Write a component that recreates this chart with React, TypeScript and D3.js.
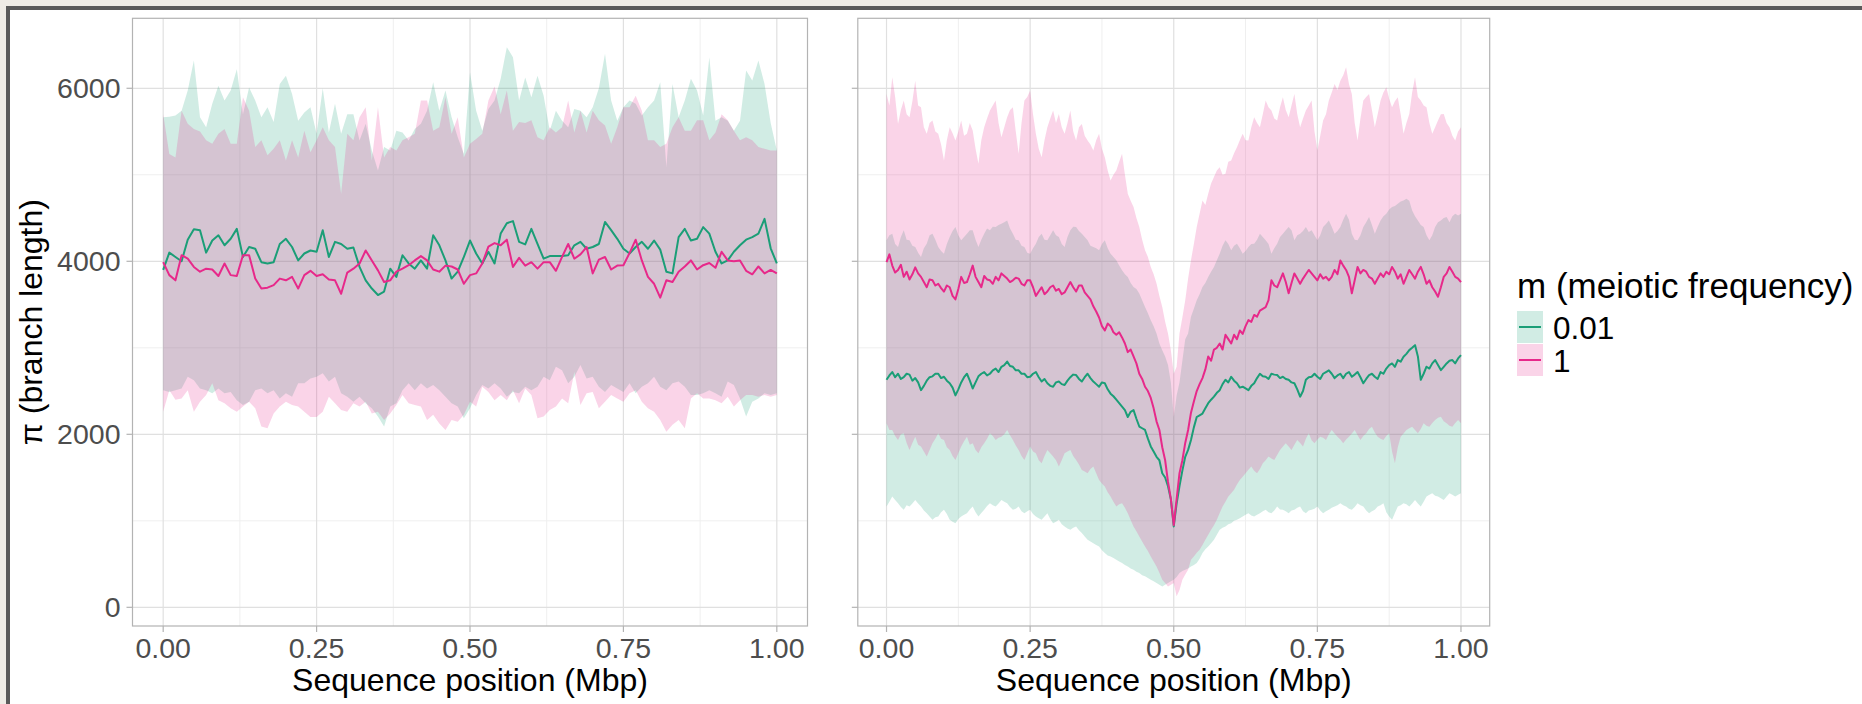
import React, { useEffect, useRef } from "react";
import * as d3 from "d3";

// ---- data ----
const seriesKeys = ["0.01", "1"];
const seriesColors = ["#1b9e77", "#e7298a"];

const xTicks = [0, 0.25, 0.5, 0.75, 1];
const xTickLabels = ["0.00", "0.25", "0.50", "0.75", "1.00"];
const xMinor = [0.125, 0.375, 0.625, 0.875];
const yTicks = [0, 2000, 4000, 6000];
const yMinor = [1000, 3000, 5000];

// left panel: 101 windows along the sequence
const posLeft = d3.range(0, 101).map((i) => i / 100);

const meanLeft001 = [
  3900, 4100, 4050, 4000, 4250, 4370, 4360, 4100, 4240, 4300,
  4185, 4260, 4375, 4050, 4165, 4145, 3990, 3975, 3990, 4200,
  4260, 4165, 4010, 4090, 4125, 4110, 4360, 4050, 4225, 4200,
  4145, 4160, 3935, 3780, 3685, 3610, 3650, 3915, 3820, 4070,
  3975, 3915, 4010, 3915, 4300, 4185, 4010, 3800, 3880, 4050,
  4240, 4090, 3975, 4110, 3975, 4320, 4440, 4465, 4225, 4195,
  4375, 4200, 4030, 4060, 4060, 4060, 4070, 4185, 4225, 4145,
  4165, 4200, 4455, 4360, 4260, 4145, 4090, 4165, 4225, 4145,
  4240, 4135, 3880, 3860, 4280, 4375, 4240, 4260, 4395, 4320,
  4110, 3975, 4010, 4110, 4185, 4250, 4280, 4320, 4490, 4150,
  3975,
];
const meanLeft1 = [
  3990, 3840, 3780, 4070, 4030, 3935, 3880, 3915, 3905, 3830,
  3975, 3840, 3830, 4070, 4070, 3800, 3685, 3695, 3725, 3800,
  3780, 3820, 3685, 3840, 3890, 3830, 3850, 3790, 3780, 3625,
  3870, 3915, 3975, 4125, 4010, 3895, 3760, 3780, 3880, 3915,
  3955, 4010, 4060, 4010, 3905, 3880, 3950, 3940, 3905, 3740,
  3840, 3860, 3975, 4170, 4210, 4185, 4250, 3935, 4040, 3950,
  3990, 3915, 3990, 3990, 3890, 4050, 4200, 4030, 4080, 4165,
  3860, 4020, 4050, 3905, 3950, 3955, 4095, 4250, 4010, 3820,
  3740, 3580, 3780, 3760, 3880, 3940, 4010, 3905, 3955, 3980,
  3925, 4110, 4010, 4000, 4010, 3890, 3850, 3940, 3860, 3900,
  3860,
];
const hiLeft001 = [
  5665, 5670, 5685, 5740, 5975, 6320, 5665, 5550, 5820, 6030,
  5860, 5975, 6220, 5700, 6010, 5860, 5665, 5780, 5610, 6050,
  6145, 5935, 5625, 5720, 5780, 5475, 6000, 5490, 5820, 5475,
  5700, 5700, 5395, 5590, 5280, 5050, 5320, 5280, 5510, 5490,
  5395, 5530, 5590, 5740, 6070, 5740, 5975, 5665, 5435, 5240,
  6185, 5740, 5510, 5760, 5860, 6110, 6475, 6360, 5860, 6125,
  5895, 6145, 5915, 5510, 5740, 5625, 5550, 5760, 5740, 5665,
  5780, 6000, 6400, 5860, 5625, 5780, 5860, 5820, 5685, 5780,
  5860, 6070, 5090, 6050, 5665, 5860, 6110, 5975, 5685, 6360,
  5625, 5665, 5625, 5510, 5625, 6205, 6090, 6320, 6050, 5600,
  5280,
];
const hiLeft1 = [
  5700, 5240, 5200, 5740, 5590, 5530, 5500, 5400, 5360, 5475,
  5530, 5360, 5360, 5895, 5740, 5320, 5400, 5225, 5300, 5400,
  5165, 5400, 5200, 5510, 5260, 5400, 5550, 5400, 5320, 4780,
  5475, 5400, 5665, 5780, 5165, 5780, 5200, 5320, 5280, 5400,
  5435, 5475, 5860, 5860, 5510, 5550, 5895, 5475, 5665, 5200,
  5360, 5415, 5475, 5860, 6020, 5700, 5975, 5510, 5610, 5600,
  5630, 5435, 5400, 5550, 5490, 5550, 5860, 5490, 5740, 5490,
  5740, 5630, 5570, 5360, 5550, 5780, 5780, 5915, 5740, 5400,
  5400, 5320, 5360, 5550, 5665, 5510, 5510, 5630, 5630, 5400,
  5490, 5700, 5630, 5510, 5400, 5435, 5400, 5320, 5300, 5280,
  5280,
];
const loLeft001 = [
  2510, 2490, 2510, 2530, 2665, 2625, 2530, 2510, 2475, 2530,
  2475, 2490, 2395, 2340, 2375, 2510, 2530, 2475, 2510, 2415,
  2475, 2435, 2590, 2590, 2645, 2665, 2705, 2610, 2665, 2475,
  2435, 2375, 2435, 2360, 2300, 2205, 2090, 2320, 2360, 2510,
  2590, 2510, 2590, 2530, 2570, 2510, 2435, 2360, 2320, 2185,
  2300, 2455, 2570, 2530, 2590, 2530, 2435, 2490, 2475, 2550,
  2510, 2550, 2665, 2625, 2780, 2740, 2590, 2665, 2800, 2645,
  2665, 2550, 2490, 2570, 2530, 2490, 2590, 2475, 2550, 2590,
  2665, 2550, 2510, 2590, 2610, 2550, 2455, 2455, 2475, 2510,
  2475, 2435, 2610, 2570, 2415, 2205, 2375, 2415, 2475, 2455,
  2475,
];
const loLeft1 = [
  2260, 2510, 2400, 2415, 2510, 2260, 2375, 2455, 2590, 2395,
  2360, 2300, 2260, 2320, 2375, 2300, 2090, 2070, 2240, 2320,
  2375, 2340, 2320, 2260, 2200, 2200, 2260, 2435, 2360, 2280,
  2260, 2360, 2320, 2375, 2240, 2260, 2165, 2240, 2340, 2455,
  2360, 2340, 2320, 2165, 2225, 2125, 2050, 2165, 2145, 2225,
  2375, 2320, 2550, 2490, 2395, 2455, 2395, 2510, 2360, 2530,
  2455, 2185, 2205, 2280, 2320, 2415, 2360, 2720, 2340, 2475,
  2490, 2300, 2375, 2455, 2415, 2375, 2475, 2510, 2375, 2300,
  2260, 2165, 2030, 2110, 2165, 2070, 2415, 2475, 2415, 2415,
  2395, 2360, 2435, 2320, 2395, 2455, 2455, 2435, 2455, 2435,
  2455,
];

// right panel: 201 windows along the sequence
const posRight = d3.range(0, 201).map((i) => i / 200);

const meanRight001 = [
  2630, 2680, 2720, 2660, 2700, 2640, 2660, 2700, 2690, 2620,
  2650, 2600, 2510, 2560, 2620, 2660, 2670, 2700, 2700, 2650,
  2665, 2620, 2590, 2540, 2450, 2520, 2600, 2660, 2700, 2620,
  2530, 2600, 2670, 2700, 2720, 2680, 2700, 2740, 2760, 2720,
  2780, 2800, 2840, 2790, 2780, 2740, 2740, 2700, 2700, 2660,
  2665, 2700, 2720, 2660, 2610, 2640, 2590, 2560, 2550, 2600,
  2610, 2580, 2570, 2620, 2660, 2690, 2685, 2640, 2610, 2660,
  2700, 2650, 2610, 2580, 2550, 2600, 2590, 2520, 2470, 2440,
  2400, 2360, 2320, 2280, 2200, 2260, 2280, 2180, 2090, 2070,
  2050, 1950, 1860, 1800, 1740, 1700, 1550, 1500, 1400, 1250,
  935,
  1200, 1400, 1580, 1740, 1820, 1935, 2080, 2200, 2220, 2240,
  2300, 2360, 2400, 2435, 2480, 2510, 2580, 2630, 2600, 2665,
  2620, 2590, 2540, 2550, 2530, 2510, 2560, 2590, 2650, 2700,
  2670, 2665, 2640, 2700, 2690, 2685, 2650, 2665, 2640, 2630,
  2600, 2590, 2520, 2435, 2500, 2630, 2660, 2665, 2700, 2665,
  2640, 2700, 2720, 2740, 2700, 2650, 2680, 2700, 2650, 2700,
  2720, 2665, 2690, 2720, 2660, 2590, 2640, 2685, 2700, 2665,
  2640, 2720, 2700, 2760, 2800, 2819, 2780, 2858, 2840, 2896,
  2930, 2973, 3000, 3031, 2900, 2630, 2700, 2781, 2760, 2820,
  2858, 2800, 2742, 2780, 2819, 2850, 2858, 2820, 2877, 2915,
];
const meanRight1 = [
  3990, 4080, 3950, 3870, 3900, 3960, 3820, 3880, 3790, 3850,
  3930, 3860, 3820, 3760, 3700, 3790, 3780, 3720, 3740, 3690,
  3650, 3720, 3700, 3600, 3560, 3680, 3820, 3750, 3760, 3850,
  3950, 3820, 3760, 3700, 3830, 3790, 3780, 3740, 3820, 3780,
  3860, 3830, 3800, 3760, 3780, 3810, 3800, 3740, 3720, 3780,
  3780, 3700, 3600, 3650, 3700, 3620, 3650, 3700, 3720, 3660,
  3680, 3620, 3640, 3700, 3760, 3700, 3650, 3720, 3720, 3640,
  3600, 3560, 3480, 3420, 3350, 3250, 3200, 3280, 3250, 3180,
  3150, 3180, 3120, 3050, 2950, 2980, 2900, 2820, 2700, 2640,
  2550, 2500, 2420, 2300, 2150, 2050, 1850, 1700, 1450, 1250,
  950,
  1250, 1550, 1700, 1900, 2050, 2250, 2380, 2500, 2580, 2650,
  2750, 2900, 2850, 2980, 3000, 3050, 2980, 3150, 3100, 3050,
  3150, 3100, 3200, 3160, 3250, 3320, 3300, 3380, 3360, 3430,
  3450, 3470, 3550, 3780, 3720, 3700, 3780, 3860, 3760, 3630,
  3750, 3860, 3800, 3740, 3800, 3850, 3900, 3860, 3820, 3780,
  3850, 3800, 3820, 3780, 3820, 3900, 3850, 4010, 3950, 3900,
  3820, 3630, 3780, 3935, 3860, 3900, 3880, 3820, 3800, 3740,
  3800, 3860, 3820, 3880, 3850, 3935, 3880, 3800, 3850, 3740,
  3820, 3900, 3850, 3800, 3880, 3935, 3850, 3740, 3780, 3700,
  3650, 3590, 3700, 3820, 3860, 3935, 3880, 3820, 3800, 3760,
];
const hiRight001 = [
  4242, 4300, 4319, 4200, 4165, 4280, 4358, 4250, 4242, 4180,
  4165, 4100, 4050, 4150, 4204, 4300, 4319, 4250, 4165, 4120,
  4088, 4200, 4281, 4350, 4396, 4300, 4242, 4280, 4319, 4360,
  4358, 4250, 4165, 4250, 4319, 4380, 4358, 4400, 4396, 4420,
  4435, 4450, 4473, 4380, 4319, 4250, 4242, 4180, 4165, 4100,
  4088, 4150, 4204, 4280, 4319, 4250, 4242, 4300, 4358, 4300,
  4281, 4200, 4165, 4280, 4358, 4400, 4396, 4350, 4319, 4280,
  4242, 4180, 4165, 4150, 4127, 4200, 4242, 4150, 4088, 4050,
  4012, 3950, 3896, 3850, 3819, 3750, 3704, 3680, 3627, 3550,
  3473, 3400, 3319, 3250, 3165, 3050, 2973, 2900, 2800, 2600,
  2200,
  2450, 2600, 2850, 3100, 3165, 3358, 3450, 3550, 3620, 3704,
  3750, 3819, 3880, 3935, 4012, 4088, 4180, 4242, 4200, 4127,
  4180, 4204, 4150, 4088, 4120, 4165, 4200, 4204, 4250, 4319,
  4280, 4242, 4200, 4088, 4150, 4204, 4280, 4319, 4358, 4396,
  4360, 4242, 4300, 4319, 4350, 4396, 4340, 4358, 4300, 4242,
  4300, 4396, 4430, 4473, 4400, 4319, 4350, 4396, 4480, 4550,
  4480, 4319, 4250, 4242, 4300, 4396, 4450, 4511, 4420, 4319,
  4400, 4473, 4520, 4550, 4600, 4627, 4640, 4665, 4690, 4704,
  4723, 4700, 4588, 4520, 4473, 4420, 4396, 4300, 4242, 4300,
  4396, 4450, 4473, 4500, 4511, 4450, 4520, 4550, 4530, 4550,
];
const hiRight1 = [
  5935, 5800, 6127, 5900, 5588, 5750, 5858, 5700, 5665, 5850,
  6088, 5800, 5781, 5550, 5473, 5600, 5627, 5500, 5473, 5350,
  5165, 5400, 5550, 5480, 5396, 5500, 5627, 5450, 5473, 5600,
  5511, 5300, 5127, 5400, 5550, 5650, 5742, 5800, 5858, 5600,
  5435, 5550, 5665, 5750, 5781, 5500, 5242, 5600, 5858, 5900,
  5973, 5700, 5473, 5300, 5204, 5400, 5550, 5650, 5742, 5600,
  5704, 5550, 5473, 5600, 5742, 5500, 5396, 5550, 5588, 5450,
  5396, 5350, 5281, 5400, 5473, 5300, 5204, 5050, 4935, 5000,
  5050, 5150, 5242, 5000, 4781, 4700, 4627, 4500, 4396, 4250,
  4127, 4050, 3935, 3850, 3742, 3600, 3473, 3300, 3165, 2973,
  2700,
  2780, 3165, 3350, 3550, 3800, 4012, 4200, 4396, 4550, 4704,
  4650, 4781, 4900, 4973, 5050, 5088, 5000, 5012, 5150, 5165,
  5250, 5319, 5400, 5473, 5400, 5396, 5550, 5665, 5600, 5550,
  5700, 5858, 5780, 5742, 5650, 5627, 5780, 5896, 5750, 5665,
  5800, 5935, 5700, 5550, 5650, 5742, 5800, 5858, 5500, 5281,
  5450, 5627, 5700, 5858, 5950, 6050, 5980, 6088, 6150, 6242,
  6050, 5935, 5600, 5396, 5650, 5858, 5900, 5935, 5750, 5550,
  5700, 5858, 5950, 6012, 5880, 5781, 5850, 5896, 5700, 5473,
  5600, 5704, 5950, 6127, 5900, 5858, 5800, 5781, 5600, 5473,
  5550, 5627, 5700, 5704, 5600, 5550, 5450, 5396, 5500, 5550,
];
const loRight001 = [
  1165, 1220, 1281, 1240, 1204, 1160, 1127, 1180, 1165, 1200,
  1242, 1200, 1165, 1120, 1088, 1050, 1012, 1040, 1050, 1100,
  1127, 1080, 1012, 990, 973, 1020, 1050, 1070, 1088, 1130,
  1165, 1100, 1050, 1090, 1127, 1170, 1204, 1180, 1165, 1200,
  1242, 1220, 1204, 1160, 1127, 1140, 1165, 1110, 1088, 1110,
  1127, 1080, 1050, 1030, 1012, 1050, 1088, 1020, 973, 990,
  1012, 960, 935, 910, 896, 920, 935, 890, 858, 820,
  781, 760, 742, 720, 704, 660, 627, 600, 588, 570,
  550, 530, 512, 490, 473, 450, 435, 410, 396, 370,
  358, 340, 319, 300, 281, 260, 242, 260, 281, 300,
  319,
  350, 396, 420, 435, 450, 473, 490, 512, 560, 627,
  670, 704, 740, 781, 840, 896, 920, 935, 960, 973,
  1000, 1012, 1030, 1050, 1070, 1088, 1060, 1050, 1070, 1088,
  1110, 1127, 1100, 1088, 1120, 1165, 1130, 1127, 1110, 1088,
  1120, 1127, 1150, 1165, 1110, 1088, 1120, 1127, 1140, 1165,
  1120, 1088, 1110, 1127, 1150, 1165, 1180, 1204, 1180, 1165,
  1140, 1127, 1160, 1204, 1180, 1165, 1120, 1088, 1110, 1127,
  1165, 1180, 1204, 1100, 1050, 1012, 1090, 1165, 1180, 1204,
  1190, 1165, 1200, 1242, 1200, 1165, 1220, 1281, 1300, 1319,
  1290, 1281, 1260, 1242, 1281, 1319, 1300, 1281, 1300, 1319,
];
const loRight1 = [
  2127, 2050, 2050, 1980, 1935, 2000, 2012, 1900, 1819, 1900,
  1973, 1880, 1858, 1800, 1742, 1820, 1896, 1950, 2012, 1950,
  1935, 1850, 1819, 1750, 1704, 1780, 1858, 1920, 1973, 1880,
  1896, 1820, 1781, 1850, 1896, 1950, 2012, 1980, 1935, 1960,
  1973, 2000, 2050, 1990, 1935, 1870, 1819, 1750, 1704, 1780,
  1858, 1800, 1781, 1700, 1665, 1750, 1819, 1780, 1742, 1700,
  1627, 1700, 1781, 1800, 1819, 1750, 1704, 1650, 1588, 1570,
  1550, 1600, 1627, 1550, 1473, 1430, 1396, 1330, 1281, 1220,
  1165, 1190, 1204, 1150, 1088, 1010, 935, 880, 819, 760,
  704, 650, 588, 530, 473, 400, 319, 280, 242, 260,
  281,
  127, 200, 319, 380, 435, 550, 588, 630, 665, 720,
  781, 840, 896, 950, 1012, 1090, 1165, 1220, 1281, 1320,
  1358, 1420, 1473, 1510, 1550, 1590, 1627, 1580, 1550, 1600,
  1665, 1700, 1742, 1720, 1704, 1760, 1819, 1860, 1896, 1860,
  1819, 1880, 1935, 1900, 1858, 1950, 2012, 1930, 1896, 1940,
  1973, 1960, 1935, 2000, 2050, 2010, 1973, 1940, 1896, 1940,
  1973, 2010, 2050, 1990, 1935, 1980, 2012, 2060, 2088, 2020,
  1973, 1950, 1935, 1980, 2012, 1800, 1665, 1850, 1973, 2010,
  2050, 2070, 2088, 2050, 2012, 2060, 2127, 2100, 2088, 2130,
  2165, 2190, 2204, 2150, 2127, 2100, 2088, 2130, 2165, 2127,
];

const FONT = "'Liberation Sans', Arial, Helvetica, sans-serif";
const W = 1862;
const H = 704;
const panelTop = 18.3;
const panelBottom = 626;
const yDomain = [-216, 6809];

const App = () => {
  const ref = useRef(null);

  useEffect(() => {
    const svg = d3.select(ref.current);
    svg.selectAll("*").remove();

    svg.append("rect").attr("width", W).attr("height", H).attr("fill", "#ffffff");
    // frame of the screenshot
    svg.append("rect").attr("x", 0).attr("y", 0).attr("width", W).attr("height", 6).attr("fill", "#efece6");
    svg.append("rect").attr("x", 0).attr("y", 0).attr("width", 6).attr("height", H).attr("fill", "#efece6");
    svg.append("rect").attr("x", 6).attr("y", 6).attr("width", W - 6).attr("height", 4).attr("fill", "#5a5a5a");
    svg.append("rect").attr("x", 6).attr("y", 6).attr("width", 4).attr("height", H - 6).attr("fill", "#5a5a5a");

    const y = d3.scaleLinear().domain(yDomain).range([panelBottom, panelTop]);

    const drawPanel = (left, right, pos, means, his, los, showYLabels) => {
      const x = d3.scaleLinear().domain([-0.05, 1.05]).range([left, right]);
      const g = svg.append("g");

      // grid
      g.selectAll(".xminor").data(xMinor).join("line")
        .attr("x1", (d) => x(d)).attr("x2", (d) => x(d))
        .attr("y1", panelTop).attr("y2", panelBottom)
        .attr("stroke", "#efefef").attr("stroke-width", 1);
      g.selectAll(".yminor").data(yMinor).join("line")
        .attr("x1", left).attr("x2", right)
        .attr("y1", (d) => y(d)).attr("y2", (d) => y(d))
        .attr("stroke", "#efefef").attr("stroke-width", 1);
      g.selectAll(".xmajor").data(xTicks).join("line")
        .attr("x1", (d) => x(d)).attr("x2", (d) => x(d))
        .attr("y1", panelTop).attr("y2", panelBottom)
        .attr("stroke", "#e0e0e0").attr("stroke-width", 1.2);
      g.selectAll(".ymajor").data(yTicks).join("line")
        .attr("x1", left).attr("x2", right)
        .attr("y1", (d) => y(d)).attr("y2", (d) => y(d))
        .attr("stroke", "#e0e0e0").attr("stroke-width", 1.2);

      // ribbons
      seriesKeys.forEach((k, s) => {
        const area = d3.area()
          .x((d, i) => x(pos[i]))
          .y0((d, i) => y(los[s][i]))
          .y1((d, i) => y(his[s][i]));
        g.append("path").datum(pos).attr("d", area)
          .attr("fill", seriesColors[s]).attr("fill-opacity", 0.2);
      });
      // mean lines
      seriesKeys.forEach((k, s) => {
        const line = d3.line()
          .x((d, i) => x(pos[i]))
          .y((d) => y(d));
        g.append("path").datum(means[s]).attr("d", line)
          .attr("fill", "none").attr("stroke", seriesColors[s])
          .attr("stroke-width", 2).attr("stroke-linejoin", "round");
      });

      // border
      g.append("rect").attr("x", left).attr("y", panelTop)
        .attr("width", right - left).attr("height", panelBottom - panelTop)
        .attr("fill", "none").attr("stroke", "#b3b3b3").attr("stroke-width", 1.2);

      // ticks
      g.selectAll(".xtick").data(xTicks).join("line")
        .attr("x1", (d) => x(d)).attr("x2", (d) => x(d))
        .attr("y1", panelBottom).attr("y2", panelBottom + 6)
        .attr("stroke", "#b3b3b3").attr("stroke-width", 1.2);
      g.selectAll(".ytick").data(yTicks).join("line")
        .attr("x1", left - 6).attr("x2", left)
        .attr("y1", (d) => y(d)).attr("y2", (d) => y(d))
        .attr("stroke", "#b3b3b3").attr("stroke-width", 1.2);

      g.selectAll(".xlab").data(xTicks).join("text")
        .attr("x", (d) => x(d)).attr("y", 658)
        .attr("text-anchor", "middle")
        .style("font-family", FONT).style("font-size", "28.5px").style("fill", "#4d4d4d")
        .text((d, i) => xTickLabels[i]);

      if (showYLabels) {
        g.selectAll(".ylab").data(yTicks).join("text")
          .attr("x", left - 12).attr("y", (d) => y(d) + 10)
          .attr("text-anchor", "end")
          .style("font-family", FONT).style("font-size", "28.5px").style("fill", "#4d4d4d")
          .text((d) => String(d));
      }

      g.append("text")
        .attr("x", (left + right) / 2).attr("y", 691)
        .attr("text-anchor", "middle")
        .style("font-family", FONT).style("font-size", "32px").style("fill", "#000")
        .text("Sequence position (Mbp)");
    };

    drawPanel(132.5, 807.5, posLeft,
      [meanLeft001, meanLeft1], [hiLeft001, hiLeft1], [loLeft001, loLeft1], true);
    drawPanel(857.8, 1489.7, posRight,
      [meanRight001, meanRight1], [hiRight001, hiRight1], [loRight001, loRight1], false);

    // y axis title
    svg.append("text")
      .attr("transform", `translate(42,${(panelTop + panelBottom) / 2}) rotate(-90)`)
      .attr("text-anchor", "middle")
      .style("font-family", FONT).style("font-size", "32px").style("fill", "#000")
      .text("π (branch length)");

    // legend
    const lg = svg.append("g");
    lg.append("text").attr("x", 1517).attr("y", 298)
      .style("font-family", FONT).style("font-size", "35px").style("fill", "#000")
      .text("m (meiotic frequency)");
    const keyTop = [311, 344];
    seriesKeys.forEach((k, s) => {
      lg.append("rect").attr("x", 1517).attr("y", keyTop[s])
        .attr("width", 26).attr("height", 32)
        .attr("fill", seriesColors[s]).attr("fill-opacity", 0.2);
      lg.append("line").attr("x1", 1519).attr("x2", 1541)
        .attr("y1", keyTop[s] + 16).attr("y2", keyTop[s] + 16)
        .attr("stroke", seriesColors[s]).attr("stroke-width", 2);
      lg.append("text").attr("x", 1553).attr("y", keyTop[s] + 28)
        .style("font-family", FONT).style("font-size", "31.5px").style("fill", "#000")
        .text(k);
    });
  }, []);

  return (
    <svg
      ref={ref}
      width={W}
      height={H}
      style={{ position: "absolute", left: 0, top: 0, display: "block" }}
    />
  );
};

export default App;
